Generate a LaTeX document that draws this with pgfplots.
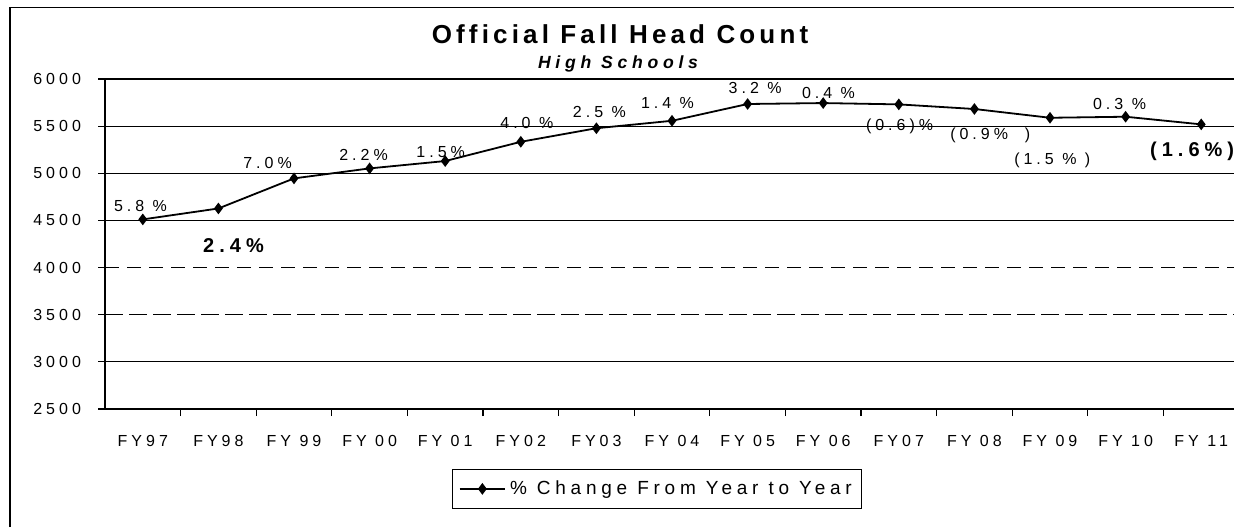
\documentclass[border=0pt]{standalone}
\usepackage{fontspec}
\setmainfont[LetterSpace=25]{Liberation Sans}
\newfontfamily\titlefont[LetterSpace=16]{Liberation Sans}
\newfontfamily\subfont[LetterSpace=27]{Liberation Sans}
\usepackage{pgfplots}
\pgfplotsset{compat=1.18}

\begin{document}
\begin{tikzpicture}
\path[use as bounding box] (0pt,0pt) rectangle (617pt,-263.5pt);
\draw[line width=0.8pt] (5pt,-263.5pt) -- (5pt,-3.75pt) -- (617pt,-3.75pt);
\node[font=\titlefont\fontsize{13}{15}\selectfont\bfseries] at (310pt,-17pt) {Official Fall Head Count};
\node[font=\subfont\fontsize{8.8}{10}\selectfont\bfseries\itshape] at (309pt,-32pt) {High Schools};
\begin{axis}[
  at={(52.5pt,-204.5pt)}, anchor=south west,
  scale only axis, width=567pt, height=165pt,
  xmin=-0.5, xmax=14.5, ymin=2500, ymax=6000,
  axis x line*=bottom, axis y line*=left,
  axis line style={-, line width=0.8pt},
  clip=false,
  tick align=outside,
  major tick length=3.5pt, minor tick length=3.5pt,
  ytick={2500,3000,...,6000},
  xtick={0,...,14},
  xticklabels={FY97,FY98,FY 99,FY 00,FY 01,FY02,FY03,FY 04,FY 05,FY 06,FY07,FY 08,FY 09,FY 10,FY 11},
  minor x tick num=1,
  major x tick style={draw=none},
  minor x tick style={draw=black, line width=0.6pt},
  ytick style={draw=black, line width=0.6pt},
  /pgf/number format/assume math mode=true,
  /pgf/number format/set thousands separator={},
  ticklabel style={font=\fontsize{8}{9}\selectfont},
  yticklabel style={xshift=-5pt},
  xticklabel style={yshift=-6pt},
  legend style={at={(0.487,-0.242)}, anchor=center, draw=black, line width=0.5pt,
    font=\fontsize{9.5}{11}\selectfont, inner xsep=3pt, inner ysep=3.5pt},
  legend image code/.code={\draw[#1, mark repeat=2, mark phase=2] plot coordinates {(0cm,0cm) (0.4cm,0cm) (0.8cm,0cm)};},
]
\draw[line width=0.9pt] (axis cs:-0.5,6000) -- (axis cs:14.5,6000);
\draw[line width=0.6pt] (axis cs:-0.5,5500) -- (axis cs:14.5,5500);
\draw[line width=0.6pt] (axis cs:-0.5,5000) -- (axis cs:14.5,5000);
\draw[line width=0.6pt] (axis cs:-0.5,4500) -- (axis cs:14.5,4500);
\draw[line width=0.6pt, dash pattern=on 7pt off 4pt] (axis cs:-0.5,4000) -- (axis cs:14.5,4000);
\draw[line width=0.6pt, dash pattern=on 9pt off 3pt] (axis cs:-0.5,3500) -- (axis cs:14.5,3500);
\draw[line width=0.6pt] (axis cs:-0.5,3000) -- (axis cs:14.5,3000);

\addplot[black, line width=0.9pt, mark=diamond*, mark size=2.2pt, mark options={solid}]
  coordinates {
  (0,4511) (1,4627) (2,4946) (3,5052) (4,5130) (5,5334) (6,5478) (7,5557)
  (8,5735) (9,5745) (10,5731) (11,5682) (12,5589) (13,5600) (14,5519)
  };
\addlegendentry{\% Change From Year to Year}

\tikzset{lbl/.style={font=\fontsize{8}{9}\selectfont, inner sep=0pt},
         big/.style={font=\fontsize{10}{12}\selectfont\bfseries, inner sep=0pt}}
\node[lbl] at (axis cs:-0.03,4652) {5.8 \%};
\node[big] at (axis cs:1.20,4238) {2.4\%};
\node[lbl] at (axis cs:1.65,5108) {7.0\%};
\node[lbl] at (axis cs:2.92,5193) {2.2\%};
\node[lbl] at (axis cs:3.94,5225) {1.5\%};
\node[lbl] at (axis cs:5.08,5533) {4.0 \%};
\node[lbl] at (axis cs:6.04,5650) {2.5 \%};
\node[lbl] at (axis cs:6.94,5745) {1.4 \%};
\node[lbl] at (axis cs:8.10,5904) {3.2 \%};
\node[lbl] at (axis cs:9.07,5851) {0.4 \%};
\node[lbl] at (axis cs:10.01,5501) {(0.6)\%};
\node[lbl] at (axis cs:11.21,5406) {(0.9\%\ \ )};
\node[lbl] at (axis cs:12.03,5140) {(1.5 \% )};
\node[lbl] at (axis cs:12.92,5735) {0.3 \%};
\node[big] at (axis cs:13.88,5236) {(1.6\%)};
\end{axis}
\end{tikzpicture}
\end{document}
